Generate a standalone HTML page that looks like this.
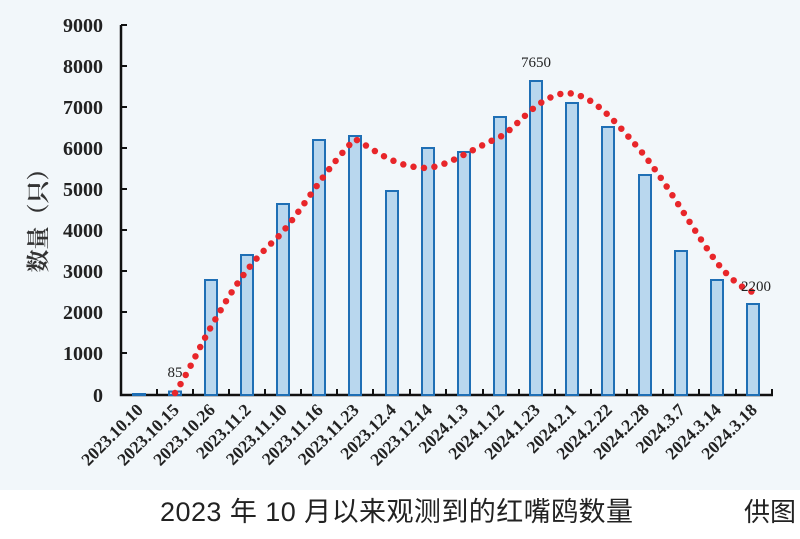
<!DOCTYPE html>
<html><head><meta charset="utf-8"><style>
html,body{margin:0;padding:0;background:#fff}
</style></head><body>
<svg width="800" height="534" viewBox="0 0 800 534" xmlns="http://www.w3.org/2000/svg">
<rect x="0" y="0" width="800" height="490" fill="#f2f7fa"/>
<g font-family="Liberation Serif, serif" font-weight="bold" font-size="20" fill="#222" text-anchor="end">
<text x="103" y="32">9000</text><text x="103" y="73">8000</text><text x="103" y="114">7000</text>
<text x="103" y="155">6000</text><text x="103" y="196">5000</text><text x="103" y="237">4000</text>
<text x="103" y="278">3000</text><text x="103" y="319">2000</text><text x="103" y="360">1000</text>
<text x="103" y="402">0</text>
</g>
<text transform="translate(46,215) rotate(-90)" text-anchor="middle" font-family="Liberation Serif, 'Noto Serif CJK SC', serif" font-size="23" font-weight="bold" fill="#333">数量（只）</text>
<g stroke="#111" stroke-width="2.5" fill="none">
<path d="M121,25 V395 H773"/>
</g>
<g stroke="#111" stroke-width="2">
<path d="M121,25h6M121,66h6M121,107h6M121,148h6M121,189h6M121,230h6M121,271h6M121,312h6M121,353h6"/>
<path d="M157,395v-6M193,395v-6M229,395v-6M265,395v-6M301,395v-6M337,395v-6M373,395v-6M410,395v-6M446,395v-6M483,395v-6M519,395v-6M555,395v-6M591,395v-6M627,395v-6M663,395v-6M699,395v-6M736,395v-6M772,395v-6"/>
</g>
<g fill="#b9d7ee" stroke="#1f6fb5" stroke-width="2">
<rect x="133" y="394" width="12" height="1"/>
<rect x="169" y="391.5" width="12" height="3.5"/>
<rect x="205" y="280" width="12" height="115"/>
<rect x="241" y="255" width="12" height="140"/>
<rect x="277" y="204" width="12" height="191"/>
<rect x="313" y="140" width="12" height="255"/>
<rect x="349" y="136" width="12" height="259"/>
<rect x="386" y="191" width="12" height="204"/>
<rect x="422" y="148" width="12" height="247"/>
<rect x="458" y="152" width="12" height="243"/>
<rect x="494" y="117" width="12" height="278"/>
<rect x="530" y="81" width="12" height="314"/>
<rect x="566" y="103" width="12" height="292"/>
<rect x="602" y="127" width="12" height="268"/>
<rect x="639" y="175" width="12" height="220"/>
<rect x="675" y="251" width="12" height="144"/>
<rect x="711" y="280" width="12" height="115"/>
<rect x="747" y="304" width="12" height="91"/>
</g>
<path d="M175,393 C190,370 200,345 215,320 C232,290 250,262 275,240 C300,215 320,175 355,139 C375,150 395,168 428,168 C450,165 470,150 500,137 C520,125 535,98 565,93 C590,93 610,115 640,150 C665,180 690,225 715,260 C730,280 745,290 753,292" fill="none" stroke="#e8262a" stroke-width="6.5" stroke-linecap="round" stroke-dasharray="0 10.5"/>
<g font-family="Liberation Serif, serif" font-size="15" fill="#222" text-anchor="middle">
<text x="175" y="377">85</text>
<text x="536" y="67">7650</text>
<text x="756" y="291">2200</text>
</g>
<g font-family="Liberation Serif, serif" font-weight="bold" font-size="17.5" fill="#222" text-anchor="end">
<text transform="translate(144,411) rotate(-45)">2023.10.10</text>
<text transform="translate(180,411) rotate(-45)">2023.10.15</text>
<text transform="translate(216,411) rotate(-45)">2023.10.26</text>
<text transform="translate(252,411) rotate(-45)">2023.11.2</text>
<text transform="translate(288,411) rotate(-45)">2023.11.10</text>
<text transform="translate(324,411) rotate(-45)">2023.11.16</text>
<text transform="translate(360,411) rotate(-45)">2023.11.23</text>
<text transform="translate(397,411) rotate(-45)">2023.12.4</text>
<text transform="translate(433,411) rotate(-45)">2023.12.14</text>
<text transform="translate(469,411) rotate(-45)">2024.1.3</text>
<text transform="translate(505,411) rotate(-45)">2024.1.12</text>
<text transform="translate(541,411) rotate(-45)">2024.1.23</text>
<text transform="translate(577,411) rotate(-45)">2024.2.1</text>
<text transform="translate(613,411) rotate(-45)">2024.2.22</text>
<text transform="translate(650,411) rotate(-45)">2024.2.28</text>
<text transform="translate(686,411) rotate(-45)">2024.3.7</text>
<text transform="translate(722,411) rotate(-45)">2024.3.14</text>
<text transform="translate(758,411) rotate(-45)">2024.3.18</text>
</g>
<text x="160" y="521" font-family="Liberation Sans, 'Noto Sans CJK SC', sans-serif" font-size="27" fill="#222" textLength="473">2023 年 10 月以来观测到的红嘴鸥数量</text>
<text x="744" y="521" font-family="Liberation Sans, 'Noto Sans CJK SC', sans-serif" font-size="26" fill="#222">供图</text>
</svg>
</body></html>
